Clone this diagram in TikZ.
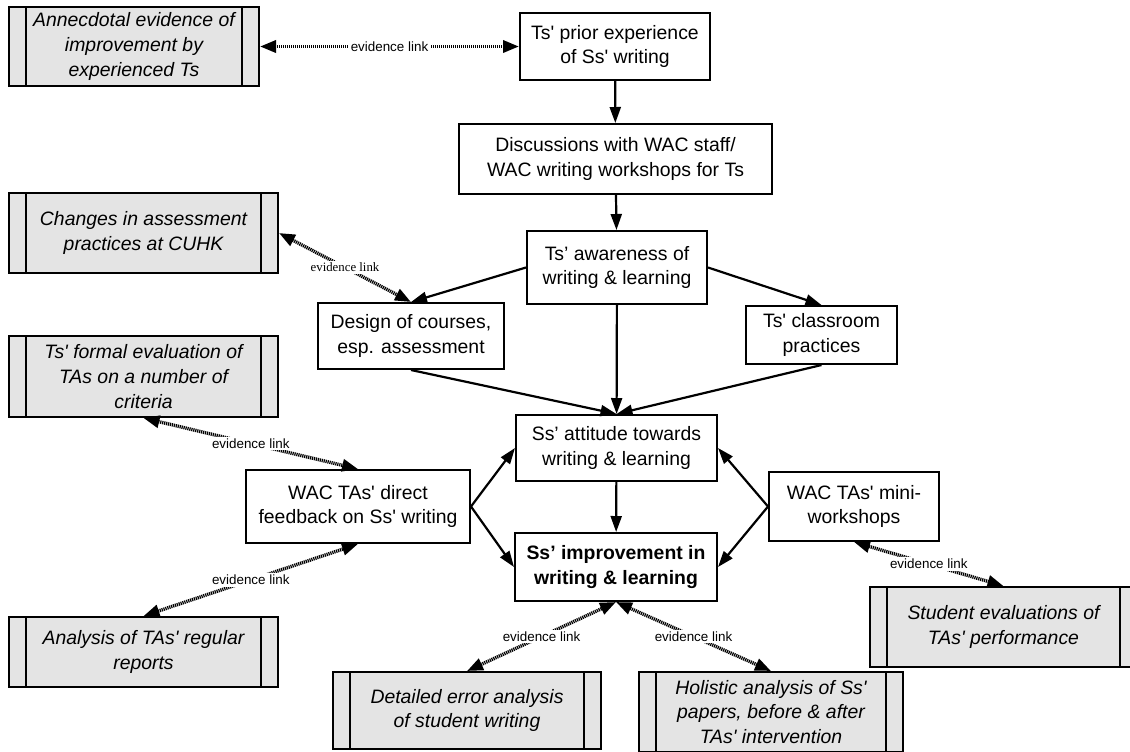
\documentclass[tikz,border=0pt]{standalone}
\usepackage{fontspec}
\setmainfont{Liberation Sans}
\newfontfamily\linkserif{Liberation Serif}
\usetikzlibrary{arrows.meta}
\definecolor{evfill}{HTML}{E4E4E4}
\newcommand{\apos}{\textquotesingle}
\tikzset{
  box/.style={draw, line width=1pt, align=center, inner sep=2pt, font=\fontsize{9.7}{12.3}\selectfont},
  evbox/.style={box, fill=evfill, font=\fontsize{9.7}{12.3}\selectfont\itshape,
    path picture={
      \draw[line width=1pt] ([xshift=8.5pt]path picture bounding box.north west) -- ([xshift=8.5pt]path picture bounding box.south west);
      \draw[line width=1pt] ([xshift=-8.5pt]path picture bounding box.north east) -- ([xshift=-8.5pt]path picture bounding box.south east);
    }},
  flow/.style={draw, line width=1.1pt, -{Triangle[length=8pt,width=5.5pt]}},
  evlink/.style={draw, line width=1.7pt, dash pattern=on 0.6pt off 0.4pt,
    {Triangle[length=8pt,width=6pt]}-{Triangle[length=8pt,width=6pt]}},
  evlab/.style={fill=white, inner sep=1pt, font=\fontsize{6.7}{8}\selectfont},
}

\begin{document}
\begin{tikzpicture}[x=0.5pt,y=-0.5pt]
  \useasboundingbox (0,0) rectangle (1130,751);
  % main chain
  \node[box, minimum width=95pt, minimum height=33.5pt] (prior) at (615,46.5) {Ts\apos{} prior experience\\of Ss\apos{} writing};
  \node[box, minimum width=156.5pt, minimum height=35pt] (disc) at (615.5,159) {Discussions with WAC staff/\\WAC writing workshops for Ts};
  \node[box, minimum width=90pt, minimum height=36.5pt] (aware) at (617,267.5) {Ts’ awareness of\\writing \& learning};
  \node[box, minimum width=93pt, minimum height=33pt] (design) at (411,336) {Design of courses,\\esp. assessment};
  \node[box, minimum width=75.5pt, minimum height=29pt] (class) at (821.5,335) {Ts\apos{} classroom\\practices};
  \node[box, minimum width=100.5pt, minimum height=33pt] (attit) at (616.5,448) {Ss’ attitude towards\\writing \& learning};
  \node[box, minimum width=101pt, minimum height=34pt, font=\fontsize{9.7}{12.3}\selectfont\bfseries] (improve) at (616,567) {Ss’ improvement in\\writing \& learning};
  \node[box, minimum width=112pt, minimum height=36.5pt] (direct) at (358,506.5) {WAC TAs\apos{} direct\\feedback on Ss\apos{} writing};
  \node[box, minimum width=85pt, minimum height=34.5pt] (mini) at (854,506.5) {WAC TAs\apos{} mini-\\workshops};
  % evidence
  \node[evbox, minimum width=125pt, minimum height=39.5pt] (anec) at (134,46.5) {Annecdotal evidence of\\improvement by\\experienced Ts};
  \node[evbox, minimum width=134.5pt, minimum height=40pt] (changes) at (143.5,233) {Changes in assessment\\practices at CUHK};
  \node[evbox, minimum width=134.5pt, minimum height=40.5pt] (formal) at (143.5,376.5) {Ts\apos{} formal evaluation of\\TAs on a number of\\criteria};
  \node[evbox, minimum width=134.5pt, minimum height=35pt] (reports) at (143.5,652) {Analysis of TAs\apos{} regular\\reports};
  \node[evbox, minimum width=134pt, minimum height=38.5pt] (errors) at (467,710.5) {Detailed error analysis\\of student writing};
  \node[evbox, minimum width=132pt, minimum height=40pt] (holistic) at (771,712) {Holistic analysis of Ss\apos{}\\papers, before \& after\\TAs\apos{} intervention};
  \node[evbox, minimum width=133.5pt, minimum height=40pt] (steval) at (1003.5,627) {Student evaluations of\\TAs\apos{} performance};

  \draw[flow] (prior) -- (disc);
  \draw[flow] (disc) -- (aware);
  \draw[flow] (aware.west) -- (design.north);
  \draw[flow] (aware.east) -- (class.north);
  \draw[flow] (aware) -- (attit);
  \draw[flow] (design.south) -- (attit.north);
  \draw[flow] (class.south) -- (attit.north);
  \draw[flow] (attit) -- (improve);
  \draw[flow] (direct.east) -- (attit.west);
  \draw[flow] (direct.east) -- (improve.west);
  \draw[flow] (mini.west) -- (attit.east);
  \draw[flow] (mini.west) -- (improve.east);

  \draw[evlink] (anec) -- node[evlab] {evidence link} (prior);
  \draw[evlink] (changes.east) -- node[evlab, font=\linkserif\fontsize{6.4}{8}\selectfont] {evidence link} (design.north);
  \draw[evlink] (formal.south) -- node[evlab] {evidence link} (direct.north);
  \draw[evlink] (reports.north) -- node[evlab] {evidence link} (direct.south);
  \draw[evlink] (errors.north) -- node[evlab] {evidence link} (improve.south);
  \draw[evlink] (holistic.north) -- node[evlab] {evidence link} (improve.south);
  \draw[evlink] (steval.north) -- node[evlab] {evidence link} (mini.south);
\end{tikzpicture}
\end{document}
